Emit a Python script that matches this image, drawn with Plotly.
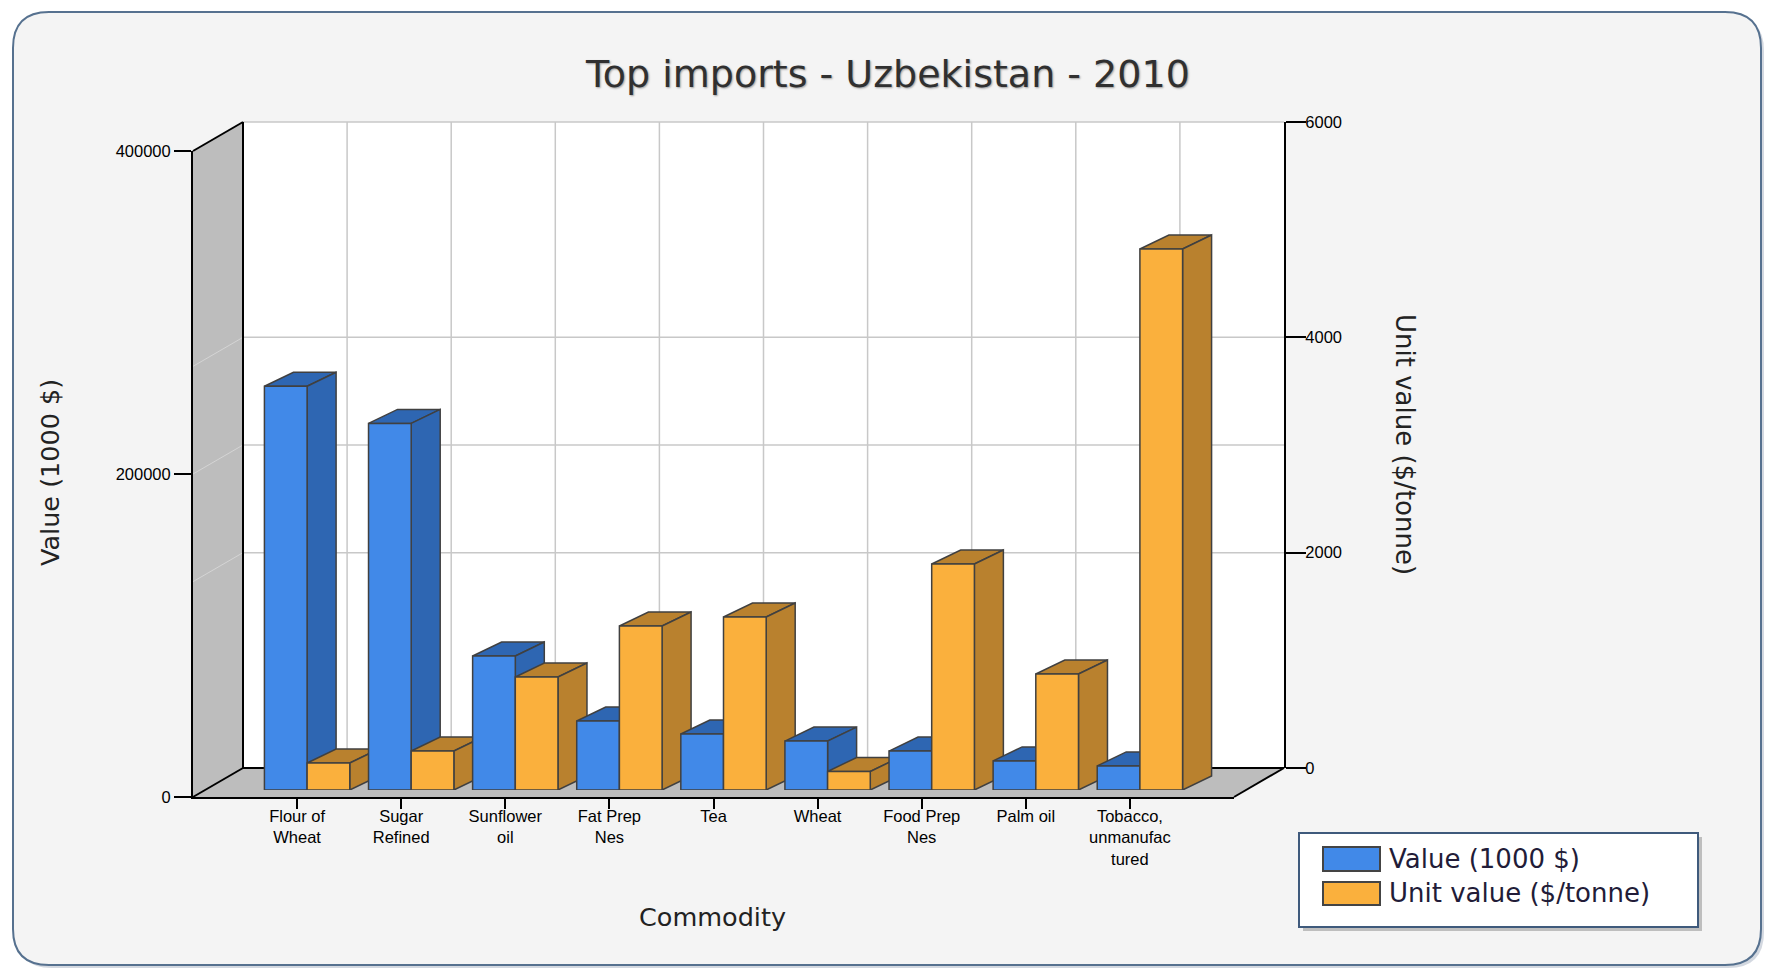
import plotly.graph_objects as go

# ---------------- data ----------------
categories = ["Flour of Wheat", "Sugar Refined", "Sunflower oil", "Fat Prep Nes", "Tea",
              "Wheat", "Food Prep Nes", "Palm oil", "Tobacco, unmanufactured"]
tick_labels = ["Flour of<br>Wheat", "Sugar<br>Refined", "Sunflower<br>oil", "Fat Prep<br>Nes", "Tea",
               "Wheat", "Food Prep<br>Nes", "Palm oil", "Tobacco,<br>unmanufac<br>tured"]
value_1000usd = [250000, 227000, 83000, 42700, 34700, 30300, 24100, 18000, 14900]
unit_value = [251, 362, 1050, 1523, 1607, 172, 2099, 1077, 5025]
value_ticks = [0, 200000, 400000]
unit_ticks = [0, 2000, 4000, 6000]
series_names = ["Value (1000 $)", "Unit value ($/tonne)"]

# ---------------- styling / geometry ----------------
W, H = 1779, 976
BLUE, BLUE_DARK = "#4189E8", "#2E66B2"
ORANGE, ORANGE_DARK = "#FAB03D", "#B9812E"
OUTLINE = "#404040"
WALL = "#BDBDBD"
GRID = "#C8C8C8"
TXT = "#222222"

FX0, FX1 = 193, 1234      # front floor edge (px)
FY = 797                  # front floor line (px)
WALL_H = 646              # height of the box (px)
WDX, WDY = 50, 29         # box depth (px)
BSX, BSY = 10, 7          # bar plane shift from the front (px)
BDX, BDY = 29, 14         # bar depth (px)
BAR_W = 0.41

positions = list(range(1, len(categories) + 1))
X_RANGE = [0, len(categories) + 1]
VAL_RANGE = [0, value_ticks[-1]]
UNIT_RANGE = [0, unit_ticks[-1]]


def fx(p):
    return p / W


def fy(p):
    return 1 - p / H


def paper_path(points):
    return "M " + " L ".join(f"{fx(x):.5f},{fy(y):.5f}" for x, y in points) + " Z"


def data_path(points):
    return "M " + " L ".join(f"{x:.5f},{y:.5f}" for x, y in points) + " Z"


shapes = []

# outer rounded frame
L, T, R, B, r = 13, 12, 1761, 965, 36


def rounded(L, T, R, B, r):
    return (f"M {fx(L + r)},{fy(T)} L {fx(R - r)},{fy(T)} Q {fx(R)},{fy(T)} {fx(R)},{fy(T + r)} "
            f"L {fx(R)},{fy(B - r)} Q {fx(R)},{fy(B)} {fx(R - r)},{fy(B)} "
            f"L {fx(L + r)},{fy(B)} Q {fx(L)},{fy(B)} {fx(L)},{fy(B - r)} "
            f"L {fx(L)},{fy(T + r)} Q {fx(L)},{fy(T)} {fx(L + r)},{fy(T)} Z")


shapes.append(dict(type="path", xref="paper", yref="paper", path=rounded(L + 3, T + 3, R + 3, B + 3, r),
                   fillcolor="rgba(80,100,130,0.25)", line=dict(width=0), layer="below"))
shapes.append(dict(type="path", xref="paper", yref="paper", path=rounded(L, T, R, B, r),
                   fillcolor="#F4F4F4", line=dict(color="#56718F", width=2), layer="below"))

BX0, BX1 = FX0 + WDX, FX1 + WDX
BY0, BYT = FY - WDY, FY - WDY - WALL_H
# back wall
shapes.append(dict(type="path", xref="paper", yref="paper",
                   path=paper_path([(BX0, BYT), (BX1, BYT), (BX1, BY0), (BX0, BY0)]),
                   fillcolor="white", line=dict(width=0), layer="below"))
# left wall
shapes.append(dict(type="path", xref="paper", yref="paper",
                   path=paper_path([(FX0, FY), (FX0, FY - WALL_H), (BX0, BYT), (BX0, BY0)]),
                   fillcolor=WALL, line=dict(width=0), layer="below"))
# floor
shapes.append(dict(type="path", xref="paper", yref="paper",
                   path=paper_path([(FX0, FY), (FX1, FY), (BX1, BY0), (BX0, BY0)]),
                   fillcolor=WALL, line=dict(width=0), layer="below"))


def pline(x0, y0, x1, y1, color, width):
    shapes.append(dict(type="line", xref="paper", yref="paper", x0=fx(x0), y0=fy(y0), x1=fx(x1), y1=fy(y1),
                       line=dict(color=color, width=width), layer="below"))


# back-wall gridlines (from the axes' tick values)
for v in unit_ticks[1:]:
    y = BY0 - (v - UNIT_RANGE[0]) / (UNIT_RANGE[1] - UNIT_RANGE[0]) * WALL_H
    pline(BX0, y, BX1, y, GRID, 1.5)
    pline(FX0, y + WDY, BX0, y, "rgba(255,255,255,0.35)", 1)
for v in value_ticks[1:-1]:
    y = BY0 - (v - VAL_RANGE[0]) / (VAL_RANGE[1] - VAL_RANGE[0]) * WALL_H
    pline(BX0, y, BX1, y, GRID, 1.5)
    pline(FX0, y + WDY, BX0, y, "rgba(255,255,255,0.35)", 1)
for p in positions:
    x = BX0 + (p - X_RANGE[0]) / (X_RANGE[1] - X_RANGE[0]) * (FX1 - FX0)
    pline(x, BYT, x, BY0, GRID, 1.5)

# box edges
pline(FX0, FY - WALL_H, BX0, BYT, "black", 2)
pline(FX0, FY, BX0, BY0, "black", 2)
pline(FX1, FY, BX1, BY0, "black", 2)
pline(BX0, BYT, BX0, BY0, "black", 2)
pline(BX0, BY0, BX1, BY0, "black", 2)

# 3D top / side faces of the bars (data coordinates of the bar axes)
dxu = BDX / ((FX1 - FX0) / (X_RANGE[1] - X_RANGE[0]))
dyu_val = BDY / WALL_H * (VAL_RANGE[1] - VAL_RANGE[0])
dyu_unit = BDY / WALL_H * (UNIT_RANGE[1] - UNIT_RANGE[0])


def faces(x0, x1, v, dy, yref, color):
    top = [(x0, v), (x1, v), (x1 + dxu, v + dy), (x0 + dxu, v + dy)]
    side = [(x1, 0), (x1, v), (x1 + dxu, v + dy), (x1 + dxu, dy)]
    out = []
    for poly in (top, side):
        out.append(dict(type="path", xref="x2", yref=yref, path=data_path(poly),
                        fillcolor=color, line=dict(color=OUTLINE, width=1.5), layer="below"))
    return out


for p, v, u in zip(positions, value_1000usd, unit_value):
    shapes += faces(p - BAR_W, p, v, dyu_val, "y3", BLUE_DARK)
    shapes += faces(p, p + BAR_W, u, dyu_unit, "y4", ORANGE_DARK)

# legend (drawn)
LX0, LY0, LX1, LY1 = 1299, 833, 1698, 927
shapes.append(dict(type="rect", xref="paper", yref="paper", x0=fx(LX0 + 4), y0=fy(LY0 + 4), x1=fx(LX1 + 4),
                   y1=fy(LY1 + 4), fillcolor="rgba(0,0,0,0.22)", line=dict(width=0), layer="above"))
shapes.append(dict(type="rect", xref="paper", yref="paper", x0=fx(LX0), y0=fy(LY0), x1=fx(LX1), y1=fy(LY1),
                   fillcolor="white", line=dict(color="#3F5A7C", width=2), layer="above"))
for (sy0, sy1), col in zip([(847, 871), (882, 905)], [BLUE, ORANGE]):
    shapes.append(dict(type="rect", xref="paper", yref="paper", x0=fx(1323), y0=fy(sy0), x1=fx(1380), y1=fy(sy1),
                       fillcolor=col, line=dict(color="#444444", width=2), layer="above"))

# ---------------- figure ----------------
fig = go.Figure()
fig.add_trace(go.Bar(x=positions, y=value_1000usd, name=series_names[0], xaxis="x2", yaxis="y3",
                     width=BAR_W, offset=-BAR_W, marker=dict(color=BLUE, line=dict(color=OUTLINE, width=1.5)),
                     customdata=categories, hovertemplate="%{customdata}: %{y}<extra></extra>"))
fig.add_trace(go.Bar(x=positions, y=unit_value, name=series_names[1], xaxis="x2", yaxis="y4",
                     width=BAR_W, offset=0, marker=dict(color=ORANGE, line=dict(color=OUTLINE, width=1.5)),
                     customdata=categories, hovertemplate="%{customdata}: %{y}<extra></extra>"))
# empty carriers so that the front and back axes are rendered
fig.add_trace(go.Scatter(x=[], y=[], xaxis="x", yaxis="y", showlegend=False, hoverinfo="skip"))
fig.add_trace(go.Scatter(x=[], y=[], xaxis="x3", yaxis="y2", showlegend=False, hoverinfo="skip"))

tickfont = dict(family="Liberation Sans", size=16.5, color="black")


def ann(text, x, y, size, color=TXT, angle=0, xanchor="center", family="DejaVu Sans", shadow=None):
    font = dict(family=family, size=size, color=color)
    if shadow:
        font["shadow"] = shadow
    return dict(text=text, x=fx(x), y=fy(y), xref="paper", yref="paper", xanchor=xanchor, yanchor="middle",
                textangle=angle, showarrow=False, font=font)


annotations = [
    ann("Top imports - Uzbekistan - 2010", 887, 74, 38, "#303030", shadow="1px 1px 2px rgba(0,0,0,0.35)"),
    ann(series_names[0], 50, 473, 25.5, angle=-90),
    ann(series_names[1], 1405, 444, 26, angle=90),
    ann("Commodity", 712, 917, 25.5),
]
for name, yc in zip(series_names, [859, 893]):
    annotations.append(ann(name, 1387, yc, 26, "#221C38", xanchor="left"))

common = dict(automargin=False, fixedrange=True, zeroline=False, showgrid=False)
fig.update_layout(
    width=W, height=H, margin=dict(l=0, r=0, t=0, b=0, pad=0, autoexpand=False),
    paper_bgcolor="white", plot_bgcolor="rgba(0,0,0,0)",
    showlegend=False, barmode="overlay",
    shapes=shapes, annotations=annotations,
    xaxis=dict(visible=True, domain=[fx(FX0), fx(FX1)], range=X_RANGE, anchor="y", tickmode="array",
               tickvals=positions, ticktext=tick_labels, tickangle=0, ticks="outside", ticklen=10, tickwidth=2,
               tickcolor="black", showline=True, linecolor="black", linewidth=2, tickfont=tickfont,
               ticklabelstandoff=-7, **common),
    yaxis=dict(visible=True, domain=[fy(FY), fy(FY - WALL_H)], range=VAL_RANGE, anchor="x", tickmode="array",
               tickvals=value_ticks, tickformat="d", ticks="outside", ticklen=17, tickwidth=2, tickcolor="black",
               showline=True, linecolor="black", linewidth=2, tickfont=tickfont, **common),
    xaxis2=dict(domain=[fx(FX0 + BSX), fx(FX1 + BSX)], range=X_RANGE, anchor="y3", visible=False, **common),
    yaxis3=dict(domain=[fy(FY - BSY), fy(FY - BSY - WALL_H)], range=VAL_RANGE, anchor="x2", visible=False,
                **common),
    yaxis4=dict(overlaying="y3", range=UNIT_RANGE, anchor="x2", side="right", visible=False, **common),
    xaxis3=dict(domain=[fx(BX0), fx(BX1)], range=X_RANGE, anchor="y2", visible=False, **common),
    yaxis2=dict(visible=True, domain=[fy(BY0), fy(BYT)], range=UNIT_RANGE, anchor="x3", side="right",
                tickmode="array", tickvals=unit_ticks, tickformat="d", ticks="outside", ticklen=20, tickwidth=2,
                tickcolor="black", showline=True, linecolor="black", linewidth=2, tickfont=tickfont,
                ticklabelstandoff=-4, **common),
)

fig.write_html("out.html", config={"displayModeBar": False},
               post_script="document.body.style.margin='0';document.body.style.overflow='hidden';")
